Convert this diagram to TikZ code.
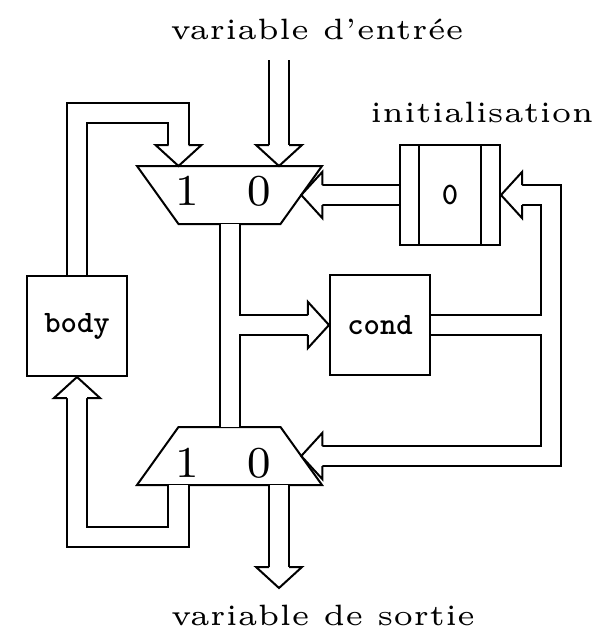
\documentclass[tikz,border=0pt]{standalone}
\usetikzlibrary{calc}
\font\blockfont="[lmmonolt10-bold.otf]" at 5.3pt
\tikzset{
  block/.style={draw,minimum size=17pt,inner sep=0pt,font=\blockfont},
  busedge/.style={line width=3.74pt},
  busfill/.style={line width=3.06pt,white},
  headshape/.style={draw,fill=white},
  digit/.style={font=\fontsize{7.5}{9}\selectfont,inner sep=0pt},
  caption/.style={font=\fontsize{5}{6}\selectfont,inner sep=0pt,anchor=base}
}
\newcommand\buspaths{
  (in) -- ($(in |- mt-top)+(0,-21)$)
  (body.north) |- (up) -- ($(up |- mt-top)+(0,-21)$)
  (init.west) -- ($(mt-east)+(21,0)$)
  (mt-bot) -- (mb-top)
  (mt-bot) |- ($(cond.west)+(-21,0)$)
  (cond.east) -- (loop) |- ($(init.east)+(21,0)$)
  (cond.east) -- (loop) |- ($(mb-east)+(21,0)$)
  (dn |- mb-bot) -- (dn) -| ($(body.south)+(0,21)$)
  (out |- mb-bot) -- ($(out)+(0,-21)$)
}
\begin{document}
\begin{tikzpicture}[x=0.17pt,y=-0.17pt,line width=0.34pt]
  \useasboundingbox (0,0) rectangle (605,630);
  \node[block] (body) at (77,326) {body};
  \node[block] (cond) at (380,325) {cond};
  \node[block] (init) at (450,195) {0};
  \foreach \s/\d in {west/3.4pt,east/-3.4pt}
    \draw ([xshift=\d]init.north \s) -- ([xshift=\d]init.south \s);
  \foreach \m/\c/\s in {mt/195/-1,mb/456/1} {
    \coordinate (\m) at (229.5,\c);
    \draw (\m) ++(-92.5,29*\s) -- ++(185,0) -- ++(-41.5,-58*\s) -- ++(-102,0) -- cycle;
    \coordinate (\m-top) at ($(\m)+(0,-29)$);
    \coordinate (\m-bot) at ($(\m)+(0,29)$);
    \coordinate (\m-east) at ($(\m)+(71.75,0)$);
  }
  \coordinate (in) at (279,60);
  \coordinate (out) at (279,588);
  \coordinate (up) at (178.5,113);
  \coordinate (dn) at (178.5,537);
  \coordinate (loop) at ($(cond.east)+(120,0)$);
  \draw[busedge] \buspaths;
  \draw[busfill] \buspaths;
  \foreach \p/\a in {in |- mt-top/-90,up |- mt-top/-90,mt-east/180,cond.west/0,
                     init.east/180,mb-east/180,body.south/90,out/-90}
    \filldraw[headshape,shift={(\p)},rotate=\a] (-21,10) -- (-21,23) -- (0,0) -- (-21,-23) -- (-21,-10);
  \foreach \m/\dy in {mt/-4,mb/7} {
    \node[digit] (\m1) at ($(\m)+(-42,\dy)$) {1};
    \node[digit] (\m0) at ($(\m)+(30,\dy)$) {0};
  }
  \node[caption] (inlabel) at (317,39) {variable d’entrée};
  \node[caption] (initlabel) at (482,122) {initialisation};
  \node[caption] (outlabel) at (323,625) {variable de sortie};
\end{tikzpicture}
\end{document}
